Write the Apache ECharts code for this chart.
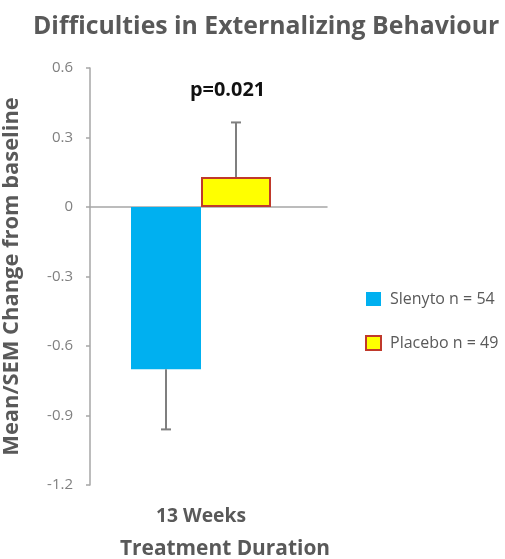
<!DOCTYPE html>
<html><head><meta charset="utf-8">
<script src="https://cdn.jsdelivr.net/npm/echarts@6/dist/echarts.min.js"></script>
<style>html,body{margin:0;padding:0;background:#fff}#c{width:505px;height:559px}</style>
</head><body><div id="c"></div>
<script>
const chartTitle = 'Difficulties in Externalizing Behaviour';
const categories = ['13 Weeks'];
const seriesNames = ['Slenyto n = 54', 'Placebo n = 49'];
const slenytoMean = [-0.70];
const slenytoSEM = [0.26];
const placeboMean = [0.13];
const placeboSEM = [0.235];
const pValueText = 'p=0.021';
const xAxisName = 'Treatment Duration';
const yAxisName = 'Mean/SEM Change from baseline';
const yMin = -1.2, yMax = 0.6, yStep = 0.3;

const FONT = 'Open Sans';
const BAR_W = 70;
const grey = '#595959';

const ctx = document.createElement('canvas').getContext('2d');
function fit(text, weight, target) {
  ctx.font = weight + ' 100px "' + FONT + '"';
  const w = ctx.measureText(text).width;
  return Math.round(100 * target / w * 10) / 10;
}
const titleSize = fit(chartTitle, 'bold', 467);
const pSize = fit(pValueText, 'bold', 75);
const yNameSize = fit(yAxisName, 'bold', 358);
const catSize = fit(categories[0], 'bold', 90);
const xNameSize = fit(xAxisName, 'bold', 210);
const legSize = fit(seriesNames[0], 'normal', 105);

function errorSeries(mean, sem, offset, sign) {
  return {
    type: 'custom', xAxisIndex: 0, yAxisIndex: 0, silent: true, z: 5,
    data: categories.map((c, i) => [i, mean[i], sem[i]]),
    encode: { x: 0, y: 1 },
    renderItem: function (params, api) {
      const i = api.value(0), m = api.value(1), s = api.value(2);
      const p0 = api.coord([i, m]);
      const p1 = api.coord([i, m + sign * s]);
      const x = p0[0] + offset;
      const st = { stroke: '#7f7f7f', lineWidth: 2 };
      return { type: 'group', children: [
        { type: 'line', shape: { x1: x, y1: p0[1], x2: x, y2: p1[1] }, style: st },
        { type: 'line', shape: { x1: x - 5, y1: p1[1], x2: x + 5, y2: p1[1] }, style: st }
      ]};
    }
  };
}

const chart = echarts.init(document.getElementById('c'));
chart.setOption({
  animation: false,
  backgroundColor: '#fff',
  textStyle: { fontFamily: FONT },
  title: [
    { text: chartTitle, left: 33, top: 14, padding: 0, textStyle: { fontFamily: FONT, fontWeight: 'bold', fontSize: titleSize, color: grey } },
    { text: pValueText, left: 190, top: 80, padding: 0, textStyle: { fontFamily: FONT, fontWeight: 'bold', fontSize: pSize, color: '#111' } }
  ],
  legend: {
    orient: 'vertical', left: 360, top: 286, itemWidth: 15, itemHeight: 14, itemGap: 28,
    icon: 'rect', data: seriesNames,
    textStyle: { fontFamily: FONT, fontSize: legSize, color: grey, padding: [0, 0, 0, 4] }
  },
  grid: [
    { left: 90, top: 68, width: 222, height: 417, containLabel: false, outerBoundsMode: 'none' },
    { left: 90, top: 68, width: 237, height: 417, containLabel: false, outerBoundsMode: 'none' }
  ],
  xAxis: [
    { type: 'category', gridIndex: 0, data: categories, position: 'bottom',
      axisLine: { show: false, onZero: false }, axisTick: { show: false },
      axisLabel: { margin: 22, fontFamily: FONT, fontWeight: 'bold', fontSize: catSize, color: grey },
      name: xAxisName, nameLocation: 'middle', nameGap: 54,
      nameTextStyle: { fontFamily: FONT, fontWeight: 'bold', fontSize: xNameSize, color: grey, padding: [0, 0, 0, 48] } },
    { type: 'value', gridIndex: 1, min: 0, max: 1,
      axisLine: { show: true, onZero: true, lineStyle: { color: '#a6a6a6', width: 1.5 } },
      axisTick: { show: false }, axisLabel: { show: false }, splitLine: { show: false } }
  ],
  yAxis: [
    { type: 'value', gridIndex: 0, min: yMin, max: yMax, interval: yStep,
      axisLine: { show: true, lineStyle: { color: '#a6a6a6', width: 1.5 } },
      axisTick: { show: true, length: 4, lineStyle: { color: '#a6a6a6', width: 1.5 } },
      splitLine: { show: false },
      axisLabel: { margin: 17, fontFamily: FONT, fontSize: 15, color: '#808080',
        formatter: v => String(+v.toFixed(1)) },
      name: yAxisName, nameLocation: 'middle', nameRotate: 90, nameGap: 67,
      nameTextStyle: { fontFamily: FONT, fontWeight: 'bold', fontSize: yNameSize, color: grey } },
    { type: 'value', gridIndex: 1, min: yMin, max: yMax, show: false }
  ],
  series: [
    { name: seriesNames[0], type: 'bar', xAxisIndex: 0, yAxisIndex: 0, data: slenytoMean,
      barWidth: BAR_W, barGap: '0%', itemStyle: { color: '#00b0f0' } },
    { name: seriesNames[1], type: 'bar', xAxisIndex: 0, yAxisIndex: 0, data: placeboMean,
      barWidth: BAR_W, barGap: '0%', itemStyle: { color: '#ffff00', borderColor: '#c0392b', borderWidth: 2 } },
    errorSeries(slenytoMean, slenytoSEM, -BAR_W / 2, -1),
    errorSeries(placeboMean, placeboSEM, BAR_W / 2, 1)
  ]
});
</script></body></html>
